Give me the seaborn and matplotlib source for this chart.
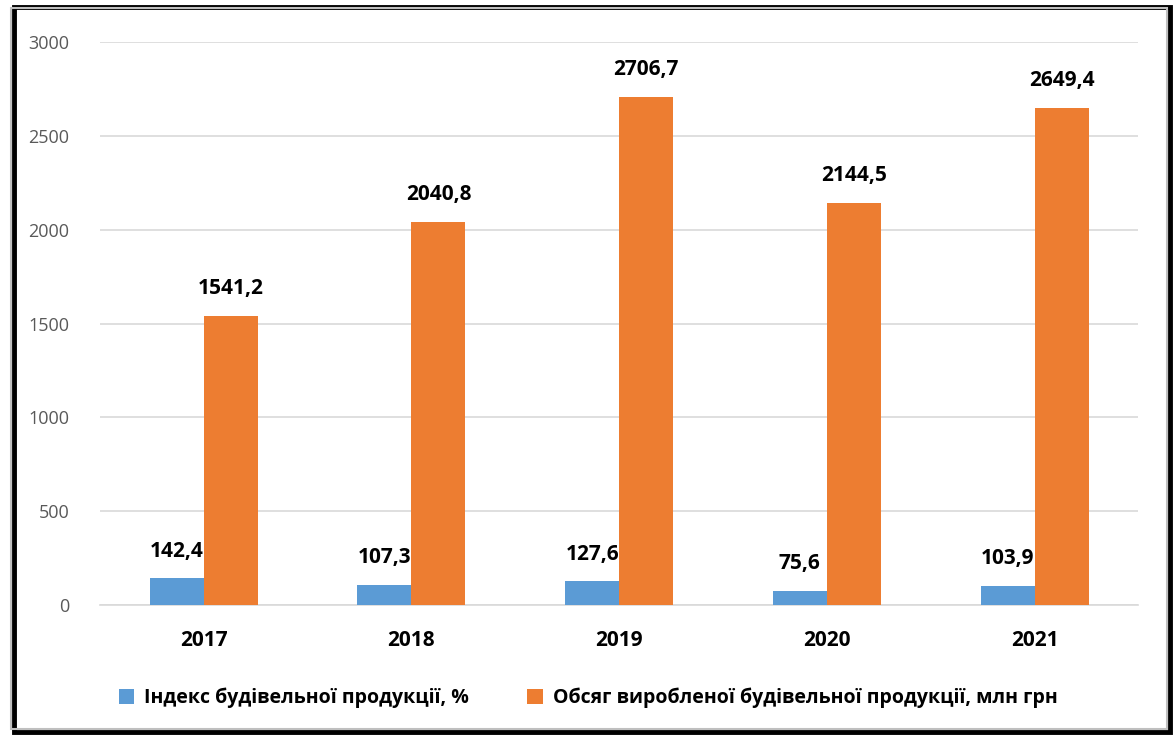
import pandas as pd
import matplotlib.pyplot as plt
import seaborn as sns
from matplotlib.patches import Rectangle

# Data
years = ['2017', '2018', '2019', '2020', '2021']
index_vals = [142.4, 107.3, 127.6, 75.6, 103.9]
volume_vals = [1541.2, 2040.8, 2706.7, 2144.5, 2649.4]
series_names = ['Індекс будівельної продукції, %',
                'Обсяг виробленої будівельної продукції, млн грн']
colors = ['#5b9bd5', '#ed7d31']

df = pd.DataFrame({
    'year': years * 2,
    'value': index_vals + volume_vals,
    'series': [series_names[0]] * len(years) + [series_names[1]] * len(years),
})

sns.set_style('white')
plt.rcParams['font.family'] = ['Open Sans', 'DejaVu Sans']
plt.rcParams['text.color'] = 'black'

fig = plt.figure(figsize=(11.76, 7.38), dpi=100)
ax = fig.add_axes([0.085, 0.18, 0.883, 0.763])

sns.barplot(data=df, x='year', y='value', hue='series', palette=colors,
            width=0.52, gap=0, saturation=1, linewidth=0, ax=ax, zorder=3)

ax.set_ylim(0, 3000)
ax.set_yticks(range(0, 3001, 500))
ax.grid(axis='y', color='#d9d9d9', lw=1.2, zorder=0)
ax.set_xlabel('')
ax.set_ylabel('')
for s in ['top', 'right', 'left']:
    ax.spines[s].set_visible(False)
ax.spines['bottom'].set_color('#d9d9d9')
ax.spines['bottom'].set_linewidth(1.2)
ax.tick_params(axis='y', length=0, labelsize=13, labelcolor='#595959', pad=22)
ax.tick_params(axis='x', length=0, labelsize=15, labelcolor='black', pad=18)
for t in ax.get_xticklabels():
    t.set_fontweight('bold')

# data labels
for cont in ax.containers:
    ax.bar_label(cont, labels=[f'{v.get_height():.1f}'.replace('.', ',') for v in cont],
                 padding=12, fontsize=15, fontweight='bold', color='black')

leg = ax.legend(loc='upper center', bbox_to_anchor=(0.47, -0.115), ncol=2, frameon=False,
                prop={'size': 14, 'weight': 'bold'}, handlelength=0.8, handleheight=0.8,
                columnspacing=3.0, handletextpad=0.5)
for t in leg.get_texts():
    t.set_color('black')

# outer frame with shadow
fig.patches.append(Rectangle((0.012, 0.008), 0.983, 0.983, transform=fig.transFigure,
                             fill=False, ec='black', lw=3.5))
fig.patches.append(Rectangle((0.009, 0.012), 0.983, 0.977, transform=fig.transFigure,
                             fill=False, ec='#bfbfbf', lw=1.5))

plt.savefig('out.png', dpi=100)
